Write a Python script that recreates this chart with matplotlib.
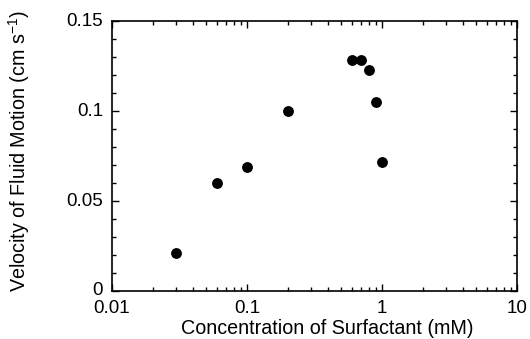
import numpy as np
import matplotlib
matplotlib.use("Agg")
import matplotlib.pyplot as plt
import matplotlib.transforms as mtransforms
from matplotlib.ticker import FixedLocator, FixedFormatter, MultipleLocator, LogLocator, NullFormatter

# data
conc = [0.03, 0.06, 0.1, 0.2, 0.6, 0.7, 0.8, 0.9, 1.0]          # mM
velocity = [0.021, 0.060, 0.069, 0.100, 0.1285, 0.1285, 0.1228, 0.1048, 0.0718]  # cm/s

xticks = [0.01, 0.1, 1, 10]
xticklabels = ["0.01", "0.1", "1", "10"]
yticks = [0, 0.05, 0.1, 0.15]
yticklabels = ["0", "0.05", "0.1", "0.15"]

plt.rcParams['font.family'] = ['Liberation Sans', 'DejaVu Sans']

fig = plt.figure(figsize=(5.3, 3.39), dpi=100)
ax = fig.add_axes([0.2113, 0.1416, 0.9755 - 0.2113, 0.938 - 0.1416])

ax.scatter(conc, velocity, s=46, color='black', zorder=3)

ax.set_xscale('log')
ax.set_xlim(0.01, 10)
ax.set_ylim(0, 0.15)

ax.xaxis.set_major_locator(FixedLocator(xticks))
ax.xaxis.set_major_formatter(FixedFormatter(xticklabels))
ax.xaxis.set_minor_locator(LogLocator(base=10, subs=np.arange(2, 10)))
ax.xaxis.set_minor_formatter(NullFormatter())
ax.yaxis.set_major_locator(FixedLocator(yticks))
ax.yaxis.set_major_formatter(FixedFormatter(yticklabels))
ax.yaxis.set_minor_locator(MultipleLocator(0.01))

ax.tick_params(which='both', direction='in', top=True, right=True, width=1.0)
ax.tick_params(which='major', length=5, labelsize=13.5)
ax.tick_params(axis='x', which='major', pad=6.5)
ax.tick_params(axis='y', which='major', pad=6.5)
ax.tick_params(which='minor', length=3)
for s in ax.spines.values():
    s.set_linewidth(1.2)

# y tick labels sit a touch above their ticks in the original
shift = mtransforms.ScaledTranslation(0, 2 / 100, fig.dpi_scale_trans)
for lab in ax.get_yticklabels():
    lab.set_transform(lab.get_transform() + shift)

ax.set_xlabel("Concentration of Surfactant (mM)", fontsize=14.2)
ax.set_ylabel("Velocity of Fluid Motion (cm s$^{\\mathregular{-1}}$)", fontsize=14.2)
ax.xaxis.set_label_coords(0.531, -0.105)
ax.yaxis.set_label_coords(-0.198, 0.517)

fig.savefig("out.png", dpi=100)
